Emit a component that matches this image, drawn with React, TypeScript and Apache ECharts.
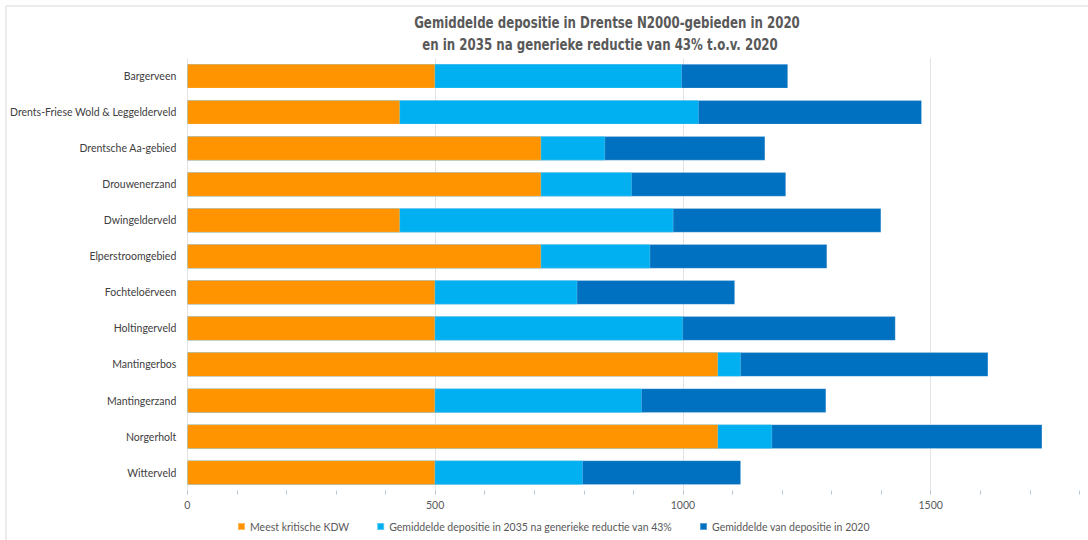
import React, { useEffect, useRef } from "react";
import * as echarts from "echarts";

const categories = [
  "Bargerveen",
  "Drents-Friese Wold & Leggelderveld",
  "Drentsche Aa-gebied",
  "Drouwenerzand",
  "Dwingelderveld",
  "Elperstroomgebied",
  "Fochteloërveen",
  "Holtingerveld",
  "Mantingerbos",
  "Mantingerzand",
  "Norgerholt",
  "Witterveld",
];

const kdw = [500, 429, 714, 714, 429, 714, 500, 500, 1071, 500, 1071, 500];
const dep2035 = [998, 1032, 843, 897, 981, 934, 787, 1000, 1117, 917, 1180, 798];
const dep2020 = [1212, 1482, 1166, 1208, 1400, 1291, 1105, 1429, 1616, 1289, 1725, 1117];

const seriesNames = [
  "Meest kritische KDW",
  "Gemiddelde depositie in 2035 na generieke reductie van 43%",
  "Gemiddelde van depositie in 2020",
];

const titleLines = [
  "Gemiddelde depositie in Drentse N2000-gebieden in 2020",
  "en in 2035 na generieke reductie van 43% t.o.v. 2020",
];

const axisMax = 1800;
const labelStep = 500;
const labelMax = 1500;

export default function App() {
  const ref = useRef<HTMLDivElement>(null);

  useEffect(() => {
    if (!ref.current) return;
    const chart = echarts.init(ref.current, undefined, { renderer: "svg" });
    const titleFont = "'DejaVu Sans Condensed', 'Noto Sans', sans-serif";
    const bodyFont = "Lato, 'Noto Sans', sans-serif";
    chart.setOption({
      animation: false,
      backgroundColor: "#ffffff",
      graphic: [
        {
          type: "rect",
          shape: { x: 6, y: 6, width: 1100, height: 560 },
          style: { fill: "none", stroke: "#d9d9d9", lineWidth: 1 },
          silent: true,
        },
        {
          type: "text",
          x: 607,
          y: 22,
          scaleX: 0.82,
          style: {
            text: titleLines[0],
            align: "center",
            verticalAlign: "middle",
            fill: "#595959",
            font: `bold 16px ${titleFont}`,
          },
        },
        {
          type: "text",
          x: 600,
          y: 44,
          scaleX: 0.82,
          style: {
            text: titleLines[1],
            align: "center",
            verticalAlign: "middle",
            fill: "#595959",
            font: `bold 16px ${titleFont}`,
          },
        },
      ],
      legend: {
        data: seriesNames,
        left: 232,
        top: 516,
        icon: "rect",
        itemWidth: 7,
        itemHeight: 7,
        itemGap: 27,
        textStyle: { color: "#595959", fontSize: 10.5, fontFamily: bodyFont },
      },
      grid: { left: 187.3, right: 8.6, top: 58.2, bottom: 49.4 },
      xAxis: {
        type: "value",
        min: 0,
        max: axisMax,
        interval: 100,
        axisLine: { show: false },
        axisTick: { show: true, length: 4, lineStyle: { color: "#b8c6d3" } },
        axisLabel: {
          color: "#595959",
          fontSize: 10.5,
          fontFamily: bodyFont,
          margin: 9,
          formatter: (v: number) => (v % labelStep === 0 && v <= labelMax ? String(v) : ""),
        },
        splitLine: {
          show: true,
          showMaxLine: false,
          lineStyle: {
            color: ["#e3e3e3", "transparent", "transparent", "transparent", "transparent"],
            width: 1,
          },
        },
      },
      yAxis: {
        type: "category",
        data: categories,
        inverse: true,
        axisLine: { show: false },
        axisTick: { show: false },
        axisLabel: { color: "#404040", fontSize: 10.5, fontFamily: bodyFont, margin: 11 },
      },
      series: [
        {
          name: seriesNames[2],
          type: "bar",
          data: dep2020,
          barCategoryGap: "32.5%",
          barGap: "-100%",
          itemStyle: { color: "#0070C0", borderColor: "rgba(255,255,255,0.35)", borderWidth: 0.6 },
          z: 1,
        },
        {
          name: seriesNames[1],
          type: "bar",
          data: dep2035,
          barCategoryGap: "32.5%",
          barGap: "-100%",
          itemStyle: { color: "#00B0F0", borderColor: "rgba(255,255,255,0.35)", borderWidth: 0.6 },
          z: 2,
        },
        {
          name: seriesNames[0],
          type: "bar",
          data: kdw,
          barCategoryGap: "32.5%",
          barGap: "-100%",
          itemStyle: { color: "#FF9300", borderColor: "rgba(255,255,255,0.35)", borderWidth: 0.6 },
          z: 3,
        },
      ],
    });
    return () => chart.dispose();
  }, []);

  return (
    <div
      ref={ref}
      style={{ position: "fixed", left: 0, top: 0, width: 1088, height: 540 }}
    />
  );
}
